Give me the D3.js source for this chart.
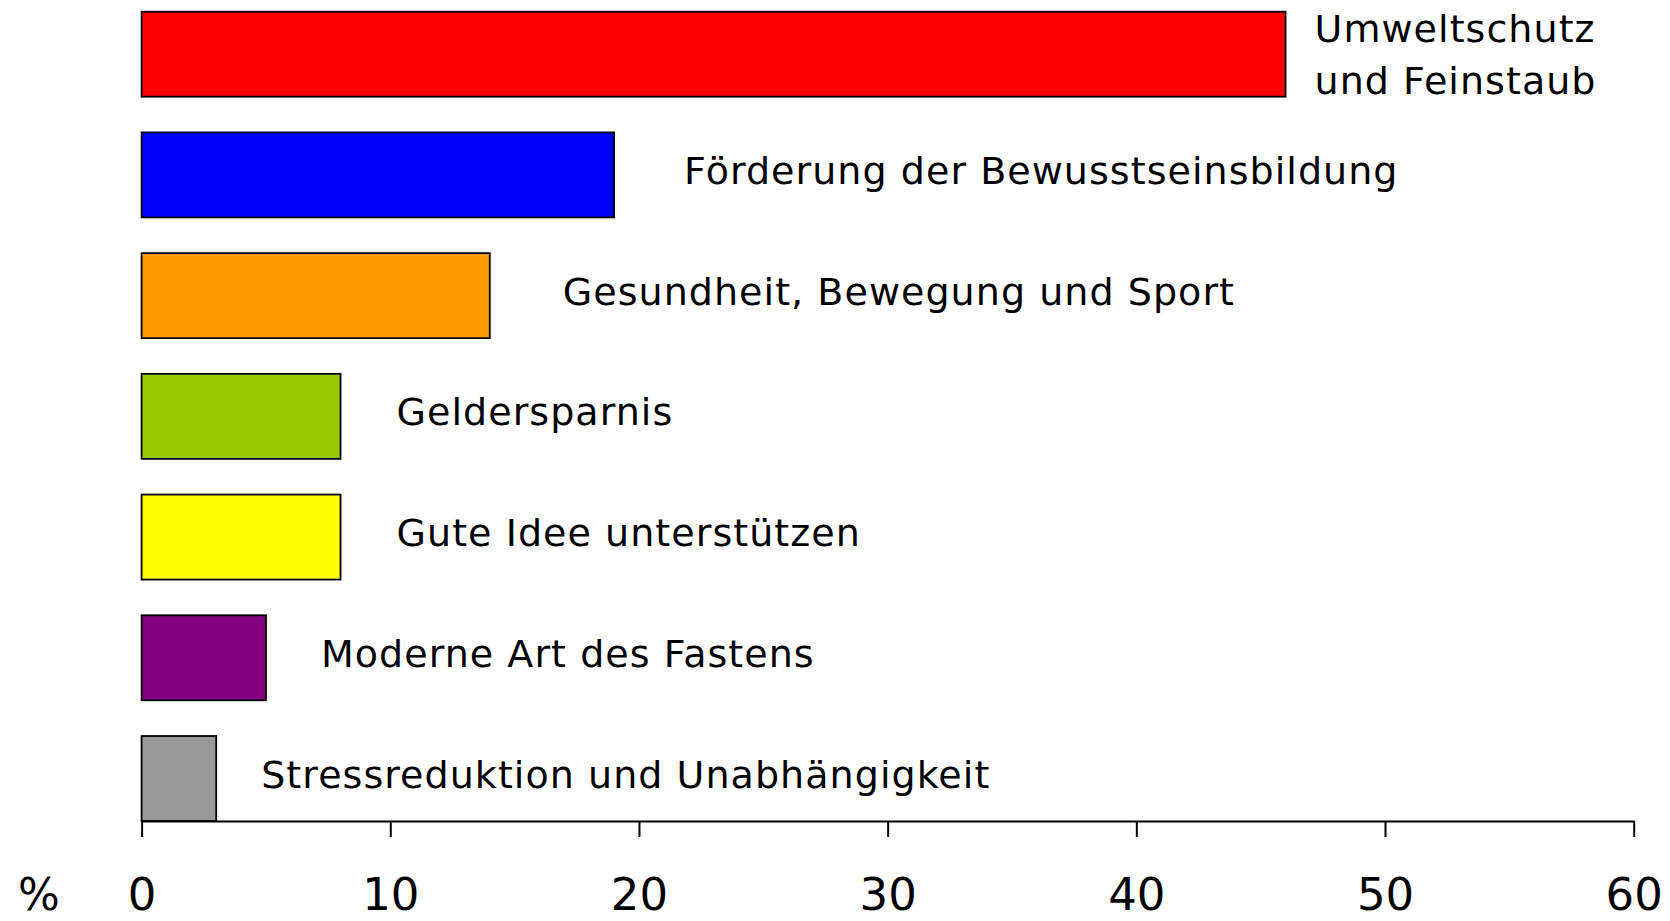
<!DOCTYPE html>
<html>
<head>
<meta charset="utf-8">
<script src="https://cdn.jsdelivr.net/npm/d3@7"></script>
<style>
  html, body { margin: 0; padding: 0; background: #fff; }
  #chart svg { display: block; }
  text { font-family: "DejaVu Sans", Verdana, sans-serif; fill: #000; }
</style>
</head>
<body>
<div id="chart"></div>
<script>
// data
const categories = [
    ["Umweltschutz", "und Feinstaub"],
    ["Förderung der Bewusstseinsbildung"],
    ["Gesundheit, Bewegung und Sport"],
    ["Geldersparnis"],
    ["Gute Idee unterstützen"],
    ["Moderne Art des Fastens"],
    ["Stressreduktion und Unabhängigkeit"]
]
const values = [46, 19, 14, 8, 8, 5, 3]
const colors = ["#ff0000", "#0000ff", "#ff9900", "#99cc00", "#ffff00", "#800080", "#999999"]
const tickValues = [0, 10, 20, 30, 40, 50, 60]
const unitLabel = "%"

// layout
const width = 1670, height = 921
const labelGap = [29, 70, 73, 56, 56, 55, 45]

const svg = d3.select("#chart")
    .append("svg")
    .attr("width", width)
    .attr("height", height)

const xScale = d3.scaleLinear()
    .domain([0, 60])
    .range([141.6, 1633.7])

const yScale = d3.scaleBand()
    .domain(d3.range(values.length))
    .range([11.7, 821])
    .paddingInner(0.296)
    .paddingOuter(0)

// bars
svg.selectAll("rect.bar")
    .data(values)
    .enter()
    .append("rect")
    .attr("class", "bar")
    .attr("x", xScale(0))
    .attr("y", (d, i) => yScale(i))
    .attr("width", d => xScale(d) - xScale(0))
    .attr("height", yScale.bandwidth())
    .attr("fill", (d, i) => colors[i])
    .attr("stroke", "#000")
    .attr("stroke-width", 1.8)

// labels next to bars
const labels = svg.selectAll("text.label")
    .data(values)
    .enter()
    .append("text")
    .attr("class", "label")
    .attr("font-size", 38)
    .attr("letter-spacing", 1.05)
    .attr("x", (d, i) => xScale(d) + labelGap[i])
    .attr("y", (d, i) => {
        const c = yScale(i) + yScale.bandwidth() / 2
        const lines = categories[i].length
        return lines > 1 ? c - 11.7 : c + 9
    })

labels.each(function (d, i) {
    const t = d3.select(this)
    const x = t.attr("x")
    categories[i].forEach((line, j) => {
        t.append("tspan")
            .attr("x", x)
            .attr("dy", j === 0 ? 0 : 51.3)
            .text(line)
    })
})

// x axis
const xAxis = d3.axisBottom(xScale)
    .tickValues(tickValues)
    .tickSize(16)
    .tickSizeOuter(0)

const axisG = svg.append("g")
    .attr("transform", `translate(0,821)`)
    .call(xAxis)

axisG.select(".domain")
    .attr("stroke", "#000")
    .attr("stroke-width", 2)
axisG.selectAll(".tick line")
    .attr("stroke", "#000")
    .attr("stroke-width", 2)
axisG.selectAll(".tick text")
    .attr("font-family", "DejaVu Sans, Verdana, sans-serif")
    .attr("font-size", 45)
    .attr("dy", 0)
    .attr("y", 89)
    .attr("fill", "#000")

svg.append("text")
    .attr("x", 39)
    .attr("y", 910)
    .attr("text-anchor", "middle")
    .attr("font-size", 44)
    .text(unitLabel)
</script>
</body>
</html>
